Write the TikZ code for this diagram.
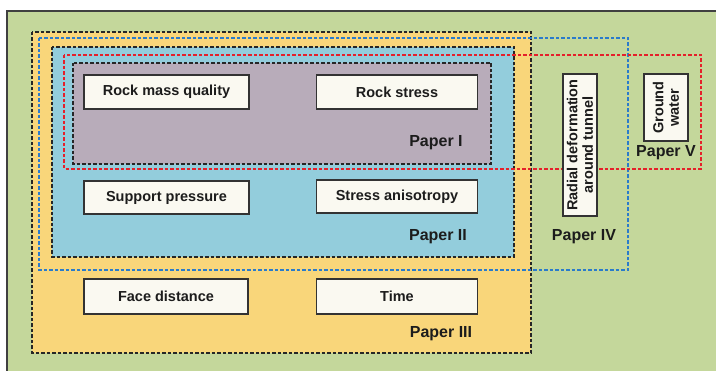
\documentclass[tikz,border=0pt]{standalone}
\usepackage{fontspec}
\setmainfont{Liberation Sans}
\definecolor{bggreen}{HTML}{C4D79B}
\definecolor{pthree}{HTML}{F9D67A}
\definecolor{ptwo}{HTML}{93CDDC}
\definecolor{pone}{HTML}{B8ACBA}
\definecolor{cream}{HTML}{FAF9F1}
\definecolor{lineblue}{HTML}{2A7BCB}
\definecolor{linered}{HTML}{E5202A}
\definecolor{ink}{HTML}{1C1C1C}
\begin{document}
\begin{tikzpicture}[x=1pt,y=-1pt,
  item/.style={draw=black!80, fill=cream, line width=1.2pt, inner sep=0pt,
    text=ink, font=\bfseries\fontsize{14.5}{15.5}\selectfont, align=center},
  frame/.style={line width=1.1pt, dash pattern=on 3.5pt off 2pt},
  paper/.style={font=\bfseries\fontsize{16}{18}\selectfont, text=ink, inner sep=0pt}]
\useasboundingbox (0,0) rectangle (716,371);
\fill[white] (0,0) rectangle (716,371);
% background panel
\draw[fill=bggreen, draw=black!75, line width=1.2pt] (7,11) rectangle (722,378);
% filled paper regions
\fill[pthree] (32,32) rectangle (531,353);
\fill[ptwo] (52,47) rectangle (514,257);
\fill[pone] (73,63) rectangle (491,164);
% dashed paper outlines
\draw[frame, black!85] (32,32) rectangle (531,353);
\draw[frame, lineblue] (39,38) rectangle (628,270);
\draw[frame, black!85] (52,47) rectangle (514,257);
\draw[frame, linered] (64,55) rectangle (701,169);
\draw[frame, black!85] (73,63) rectangle (491,164);
% factor boxes
\node[item, minimum width=165, minimum height=34,
  preaction={draw=orange!55, line width=2.6pt}] (rmq) at (166.5,92) {Rock mass quality};
\node[item, minimum width=161, minimum height=34] (rs) at (397,92) {Rock stress};
\node[item, minimum width=165, minimum height=33] (sp) at (166.5,197.5) {Support pressure};
\node[item, minimum width=161, minimum height=33] (sa) at (397,196.5) {Stress anisotropy};
\node[item, minimum width=164, minimum height=35] (fd) at (166,296.5) {Face distance};
\node[item, minimum width=161, minimum height=35] (tm) at (397,296.5) {Time};
\node[item, rotate=90, minimum width=142, minimum height=34] (rd) at (580,145)
  {Radial deformation\\around tunnel};
\node[item, rotate=90, minimum width=67, minimum height=44] (gw) at (666,107.5)
  {Ground\\water};
% paper labels
\node[paper] (p1) at (436,143) {Paper I};
\node[paper] (p2) at (438,237) {Paper II};
\node[paper] (p3) at (441,334) {Paper III};
\node[paper] (p4) at (584,237) {Paper IV};
\node[paper] (p5) at (666,153) {Paper V};
\end{tikzpicture}
\end{document}
